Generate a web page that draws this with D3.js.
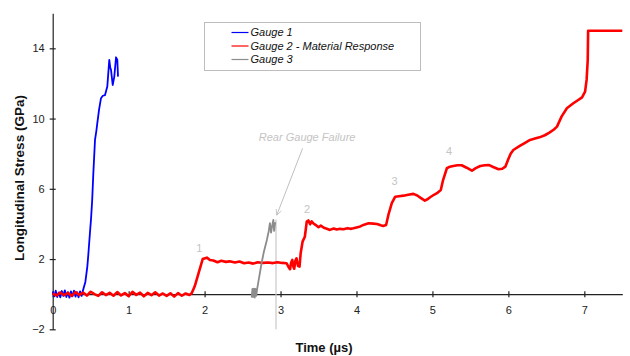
<!DOCTYPE html>
<html>
<head>
<meta charset="utf-8">
<script src="https://cdn.jsdelivr.net/npm/d3@7"></script>
<style>
  body { margin: 0; background: #fff; }
  svg { display: block; font-family: Arial, "Liberation Sans", sans-serif; }
</style>
</head>
<body>
<svg id="chart" width="630" height="356"></svg>
<script>
// time (us), longitudinal stress (GPa)
const gauge1 = [
  [0, 0.15], [0.02, -0.12], [0.04, 0.2], [0.06, -0.16], [0.08, 0.1], [0.1, -0.18],
  [0.12, 0.18], [0.14, -0.1], [0.16, 0.22], [0.18, -0.16], [0.2, 0.12], [0.22, -0.2],
  [0.24, 0.16], [0.26, -0.12], [0.28, 0.2], [0.3, -0.14], [0.32, 0.12], [0.34, -0.18],
  [0.36, 0.16], [0.38, -0.1], [0.4, 0.24], [0.43, 0.7], [0.456, 1.57], [0.47, 2.3],
  [0.49, 3.47], [0.505, 4.3], [0.52, 5.36], [0.535, 6.88], [0.557, 8.78], [0.575, 9.3],
  [0.587, 9.73], [0.61, 10.49], [0.636, 11.16], [0.66, 11.3], [0.689, 11.34],
  [0.719, 11.82], [0.745, 13.34], [0.758, 12.9], [0.768, 12.77], [0.79, 11.91],
  [0.811, 12.39], [0.834, 13.49], [0.851, 13.34], [0.86, 12.39]
];

const gauge2 = [
  [0, 0.05], [0.05, -0.08], [0.1, 0.1], [0.15, -0.06], [0.2, 0.08], [0.25, -0.1],
  [0.3, 0.12], [0.35, -0.04], [0.4, 0.09], [0.45, -0.08], [0.5, 0.14], [0.55, 0.0],
  [0.6, -0.1], [0.65, 0.11], [0.7, -0.05], [0.75, 0.08], [0.8, -0.09], [0.85, 0.12],
  [0.9, -0.07], [0.95, 0.06], [1.0, -0.11], [1.05, 0.13], [1.1, -0.04], [1.15, 0.09],
  [1.2, -0.12], [1.25, 0.07], [1.3, -0.06], [1.35, 0.11], [1.4, -0.08], [1.45, 0.04],
  [1.5, -0.1], [1.55, 0.05], [1.6, -0.14], [1.65, 0.06], [1.7, -0.09], [1.75, 0.04],
  [1.8, -0.05], [1.83, 0.05], [1.87, 0.45], [1.92, 1.19], [1.975, 2.0], [2.03, 2.08],
  [2.07, 1.95], [2.115, 1.92], [2.17, 1.82], [2.22, 1.9], [2.28, 1.84], [2.33, 1.87],
  [2.4, 1.8], [2.46, 1.86], [2.52, 1.76], [2.58, 1.8], [2.64, 1.74], [2.7, 1.82],
  [2.77, 1.78], [2.84, 1.8], [2.9, 1.77], [2.96, 1.82], [3.02, 1.78], [3.08, 1.76],
  [3.105, 1.55], [3.125, 1.42], [3.14, 1.8], [3.155, 1.95], [3.17, 1.55], [3.18, 1.45],
  [3.195, 1.9], [3.21, 2.04], [3.23, 1.6], [3.25, 1.57], [3.265, 2.33], [3.29, 2.99],
  [3.32, 3.27], [3.345, 4.13], [3.366, 4.2], [3.39, 3.98], [3.41, 4.15], [3.43, 4.04],
  [3.46, 3.95], [3.5, 3.81], [3.53, 3.9], [3.57, 3.78], [3.61, 3.72], [3.65, 3.66],
  [3.7, 3.74], [3.74, 3.68], [3.78, 3.72], [3.83, 3.7], [3.88, 3.76], [3.92, 3.72],
  [3.96, 3.75], [4.0, 3.8], [4.05, 3.86], [4.1, 3.96], [4.16, 4.04], [4.22, 4.02],
  [4.27, 4.0], [4.32, 3.92], [4.35, 3.88], [4.39, 3.94], [4.42, 4.51], [4.465, 5.18],
  [4.51, 5.55], [4.56, 5.58], [4.62, 5.61], [4.68, 5.66], [4.75, 5.71], [4.8, 5.62],
  [4.84, 5.5], [4.9, 5.33], [4.94, 5.42], [4.97, 5.52], [5.02, 5.66], [5.06, 5.75],
  [5.11, 5.93], [5.14, 6.5], [5.19, 7.17], [5.23, 7.26], [5.275, 7.3], [5.33, 7.34],
  [5.385, 7.34], [5.45, 7.2], [5.52, 7.03], [5.57, 7.18], [5.63, 7.3], [5.69, 7.34],
  [5.74, 7.36], [5.8, 7.24], [5.87, 7.11], [5.92, 7.14], [5.96, 7.26], [6.0, 7.7],
  [6.03, 8.0], [6.065, 8.21], [6.15, 8.44], [6.22, 8.62], [6.285, 8.78], [6.35, 8.86],
  [6.41, 8.93], [6.48, 9.05], [6.54, 9.2], [6.6, 9.38], [6.64, 9.54], [6.7, 10.11],
  [6.77, 10.59], [6.855, 10.87], [6.91, 11.03], [6.97, 11.21], [7.01, 11.53],
  [7.03, 12.2], [7.045, 13.34], [7.05, 15.0], [7.5, 15.0]
];

const gauge3 = [
  [2.62, -0.2], [2.63, 0.3], [2.64, -0.15], [2.65, 0.32], [2.66, -0.2], [2.67, 0.3],
  [2.68, -0.1], [2.69, 0.24], [2.72, 1.0], [2.75, 1.76], [2.78, 2.4], [2.82, 3.09],
  [2.845, 3.6], [2.86, 4.04], [2.875, 3.5], [2.89, 3.9], [2.905, 4.23], [2.915, 3.6],
  [2.93, 4.1]
];

const seriesNames = ['Gauge 1', 'Gauge 2 - Material Response', 'Gauge 3'];
const seriesColors = ['#0000ff', '#ff0000', '#8c8c8c'];
const xTicks = [0, 1, 2, 3, 4, 5, 6, 7];
const yTicks = [-2, 2, 6, 10, 14];

// step labels: [time, stress, text]
const stepLabels = [[1.93, 2.4, '1'], [3.35, 4.6, '2'], [4.5, 6.2, '3'], [5.22, 7.95, '4']];
const failureLine = [[2.94, 4.25], [2.94, -2]];
const failureArrow = [[3.29, 8.3], [2.95, 4.5]];
const failureText = [3.35, 8.75, 'Rear Gauge Failure'];

const svg = d3.select('#chart');
const x = d3.scaleLinear().domain([0, 7.5]).range([52.7, 622.3]);
const y = d3.scaleLinear().domain([-2, 16]).range([329.3, 13.2]);
const labelGray = '#c4c4c4';

// axes
const yAxis = svg.append('g')
  .attr('transform', `translate(${x(0)},0)`)
  .call(d3.axisLeft(y).tickValues(yTicks).tickSizeInner(3).tickSizeOuter(0).tickPadding(5));
yAxis.selectAll('.tick line').attr('x1', 3);

const xAxis = svg.append('g')
  .attr('transform', `translate(0,${y(0)})`)
  .call(d3.axisBottom(x).tickValues(xTicks).tickSizeInner(3).tickSizeOuter(0).tickPadding(9));
xAxis.selectAll('.tick line').attr('y1', -3);

svg.selectAll('.domain, .tick line').attr('stroke', '#222').attr('stroke-width', 1.2);
svg.selectAll('.tick text').attr('font-size', 11).attr('fill', '#222')
  .attr('font-family', 'Arial, "Liberation Sans", sans-serif');

// annotation line + arrow
const line = d3.line().x(d => x(d[0])).y(d => y(d[1]));

svg.append('defs').append('marker')
  .attr('id', 'arrow')
  .attr('viewBox', '0 0 10 10')
  .attr('refX', 9).attr('refY', 5)
  .attr('markerWidth', 7).attr('markerHeight', 7)
  .attr('orient', 'auto')
  .append('path')
  .attr('d', 'M1,1 L9,5 L1,9')
  .attr('fill', 'none')
  .attr('stroke', '#b8b8b8');

svg.append('path').datum(failureLine).attr('d', line)
  .attr('fill', 'none').attr('stroke', '#c8c8c8').attr('stroke-width', 1.2);

svg.append('path').datum(failureArrow).attr('d', line)
  .attr('fill', 'none').attr('stroke', '#c0c0c0').attr('stroke-width', 1)
  .attr('marker-end', 'url(#arrow)');

// traces
const traces = [gauge1, gauge2, gauge3];
svg.append('g').selectAll('path')
  .data(traces)
  .join('path')
  .attr('d', line)
  .attr('fill', 'none')
  .attr('stroke', (d, i) => seriesColors[i])
  .attr('stroke-width', (d, i) => (i === 1 ? 2.6 : 1.8))
  .attr('stroke-linejoin', 'round');

// annotation texts
svg.append('text')
  .attr('x', x(failureText[0])).attr('y', y(failureText[1]))
  .attr('text-anchor', 'middle')
  .attr('font-size', 11).attr('font-style', 'italic')
  .attr('fill', labelGray)
  .text(failureText[2]);

svg.append('g').selectAll('text')
  .data(stepLabels)
  .join('text')
  .attr('x', d => x(d[0])).attr('y', d => y(d[1]))
  .attr('text-anchor', 'middle')
  .attr('font-size', 11)
  .attr('fill', labelGray)
  .text(d => d[2]);

// legend
const legend = svg.append('g').attr('transform', 'translate(204.5,22.5)');
legend.append('rect')
  .attr('width', 216).attr('height', 48)
  .attr('fill', '#fff').attr('stroke', '#bdbdbd');
const rows = legend.selectAll('g.row')
  .data(seriesNames)
  .join('g')
  .attr('class', 'row')
  .attr('transform', (d, i) => `translate(0,${10 + i * 13.5})`);
rows.append('line')
  .attr('x1', 27).attr('x2', 44)
  .attr('stroke', (d, i) => seriesColors[i])
  .attr('stroke-width', 1.2);
rows.append('text')
  .attr('x', 46).attr('dy', '0.35em')
  .attr('font-size', 11).attr('font-style', 'italic')
  .attr('fill', '#111')
  .text(d => d);

// axis titles
svg.append('text')
  .attr('transform', 'translate(24,178) rotate(-90)')
  .attr('text-anchor', 'middle')
  .attr('font-size', 13.5).attr('font-weight', 'bold')
  .attr('fill', '#111')
  .text('Longitudinal Stress (GPa)');

svg.append('text')
  .attr('x', 324).attr('y', 352)
  .attr('text-anchor', 'middle')
  .attr('font-size', 13).attr('font-weight', 'bold')
  .attr('fill', '#111')
  .text('Time (µs)');
</script>
</body>
</html>
